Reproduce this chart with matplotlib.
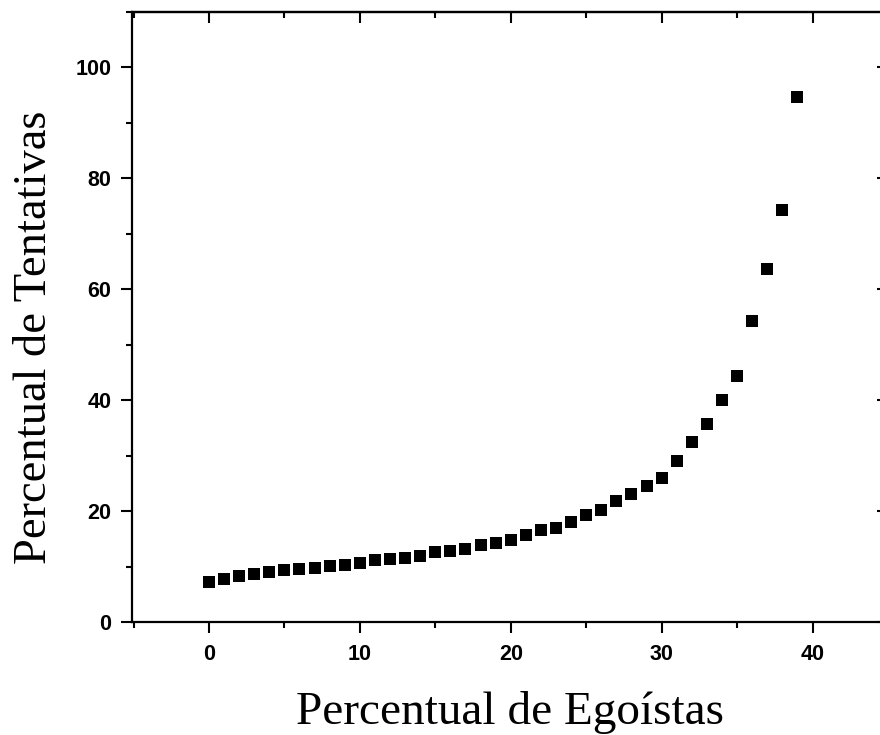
import numpy as np
import matplotlib
matplotlib.use("Agg")
import matplotlib.pyplot as plt
from matplotlib.ticker import MultipleLocator

# Percentual de egoístas (x) e percentual de tentativas (y)
egoistas = list(range(0, 40))
tentativas = [7.2, 7.7, 8.3, 8.6, 9.1, 9.3, 9.5, 9.8, 10.1, 10.3,
              10.6, 11.1, 11.3, 11.6, 11.9, 12.6, 12.8, 13.2, 13.8, 14.3,
              14.8, 15.7, 16.6, 17.0, 18.1, 19.2, 20.1, 21.8, 23.1, 24.5,
              26.0, 29.0, 32.5, 35.7, 40.1, 44.4, 54.3, 63.7, 74.2, 94.7]

xticks = [0, 10, 20, 30, 40]
yticks = [0, 20, 40, 60, 80, 100]

fig = plt.figure(figsize=(8.8, 7.35), dpi=100)
ax = fig.add_axes([132 / 880, 1 - 622 / 735, (888 - 132) / 880, (622 - 11.7) / 735])

ax.plot(egoistas, tentativas, linestyle='none', marker='s',
        markersize=9, markeredgewidth=0, color='black')

ax.set_xlim(-5.1, 45)
ax.set_ylim(0, 110)
ax.set_xticks(xticks)
ax.set_yticks(yticks)
ax.xaxis.set_minor_locator(MultipleLocator(5))
ax.yaxis.set_minor_locator(MultipleLocator(10))

for s in ax.spines.values():
    s.set_linewidth(1.6)

# left/bottom ticks outward, top/right mirrored inward
ax.tick_params(which='both', direction='out', width=1.5, top=False, right=False)
ax.tick_params(which='major', length=8)
ax.tick_params(which='minor', length=4.5)
ax.tick_params(axis='x', which='major', pad=8)
ax.tick_params(axis='y', which='major', pad=7)

sec_x = ax.secondary_xaxis('top')
sec_x.set_xticks(xticks)
sec_x.xaxis.set_minor_locator(MultipleLocator(5))
sec_x.tick_params(which='both', direction='in', width=1.5, labeltop=False)
sec_x.tick_params(which='major', length=8)
sec_x.tick_params(which='minor', length=4.5)
sec_x.spines['top'].set_linewidth(1.6)

sec_y = ax.secondary_yaxis('right')
sec_y.set_yticks(yticks)
sec_y.yaxis.set_minor_locator(MultipleLocator(10))
sec_y.tick_params(which='both', direction='in', width=1.5, labelright=False)
sec_y.tick_params(which='major', length=8)
sec_y.tick_params(which='minor', length=4.5)
sec_y.spines['right'].set_linewidth(1.6)

for lbl in ax.get_xticklabels() + ax.get_yticklabels():
    lbl.set_fontfamily('Liberation Sans')
    lbl.set_fontweight('bold')
    lbl.set_fontsize(15.5)

fig.text(510 / 880, 1 - 713 / 735, 'Percentual de Egoístas',
         family='Liberation Serif', fontsize=34, ha='center', va='center')
fig.text(35 / 880, 1 - 337 / 735, 'Percentual de Tentativas',
         family='Liberation Serif', fontsize=33.5, ha='center', va='center',
         rotation=90)

fig.savefig('out.png', dpi=100)
